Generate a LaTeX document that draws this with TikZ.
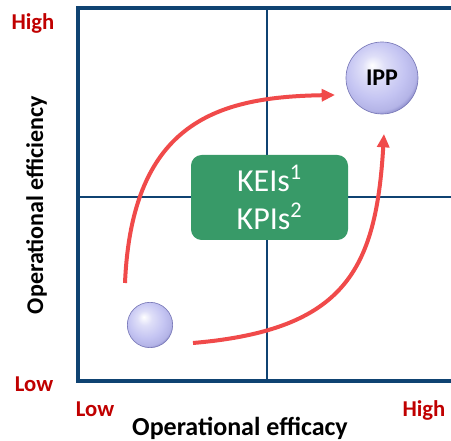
\documentclass[tikz,border=0pt]{standalone}
\usepackage{fontspec}
\setmainfont{Carlito}
\usetikzlibrary{arrows.meta}
\definecolor{navy}{HTML}{0F4372}
\definecolor{darkred}{HTML}{C00000}
\definecolor{leafgreen}{HTML}{389A68}
\definecolor{arrowred}{HTML}{F04A4A}
\definecolor{lavender}{HTML}{C4C4F2}
\definecolor{orbrim}{HTML}{5A5AA8}
\pgfdeclareradialshading{orbshade}{\pgfpoint{-7bp}{9bp}}{%
  color(0bp)=(white); color(8bp)=(lavender!55!white); color(20bp)=(lavender);
  color(27bp)=(lavender!85!orbrim); color(33bp)=(orbrim); color(50bp)=(orbrim)}
\tikzset{
  axisline/.style={draw=navy, line width=3pt},
  gridline/.style={draw=navy, line width=1.5pt},
  levellabel/.style={
    anchor=base,
    text=darkred,
    font=\fontsize{17}{20}\selectfont\bfseries
  },
  axislabel/.style={
    anchor=base,
    font=\fontsize{19.5}{22}\selectfont\bfseries
  },
  kpibox/.style={
    fill=leafgreen,
    rounded corners=8pt,
    minimum width=117.75pt,
    minimum height=63.75pt,
    text=white,
    align=center,
    font=\fontsize{24}{28}\selectfont
  },
  orb/.style={
    circle,
    shading=orbshade,
    draw=orbrim!80,
    line width=0.5pt,
    inner sep=0pt,
    font=\fontsize{18}{20}\selectfont\bfseries
  },
  trendarrow/.style={-{Triangle[length=10pt,width=9pt]},draw=arrowred,line width=3pt}
}

\begin{document}
\begin{tikzpicture}[x=0.75pt,y=-0.75pt]
\useasboundingbox (0,0) rectangle (451,441);
\clip (0,0) rectangle (451,441);
% quadrant frame
\draw[axisline] (470,8) -- (78,8) -- (78,381) -- (470,381);
\draw[gridline] (267,8) -- (267,381);
\draw[gridline] (78,197) -- (470,197);
% levels
\node[levellabel] (yhigh) at (33,30) {High};
\node[levellabel] (ylow) at (34,392) {Low};
\node[levellabel] (xlow) at (95,417) {Low};
\node[levellabel] (xhigh) at (424,417) {High};
\node[axislabel] (xtitle) at (240,436) {Operational efficacy};
\node[axislabel,rotate=90,font=\fontsize{18}{20}\selectfont\bfseries] (ytitle) at (43,205) {Operational efficiency};
% indicators
\node[kpibox] (kpi) at (269.5,197.5) {KEIs\textsuperscript{1}\\KPIs\textsuperscript{2}};
\node[orb,minimum size=54pt] (ipp) at (382,78) {IPP};
\node[orb,minimum size=34pt] (start) at (150,325) {};
% paths to IPP
\coordinate (upstart) at (125,283);
\coordinate (upend) at (335,95);
\coordinate (rightstart) at (193,343);
\coordinate (rightend) at (384,134);
\draw[trendarrow] (upstart) .. controls (132,120) and (220,97) .. (upend);
\draw[trendarrow] (rightstart) .. controls (345,330) and (376,270) .. (rightend);
\end{tikzpicture}
\end{document}
